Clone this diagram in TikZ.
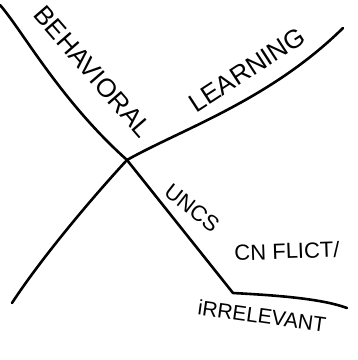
\documentclass[tikz,border=0pt]{standalone}
\usepackage{fontspec}
\setmainfont{Liberation Sans}
\begin{document}
\begin{tikzpicture}[x=1pt,y=-1pt,
  stroke/.style={line width=2.6pt,line cap=round,line join=round},
  hand/.style={font=\fontsize{26}{26}\selectfont,inner sep=0pt}]
\useasboundingbox (0,0) rectangle (358,360);
\coordinate (top) at (0,5);
\coordinate (x) at (127,160);
\coordinate (bend) at (233,293);
\coordinate (endr) at (347,308);
\coordinate (endl) at (12,303);
\coordinate (endu) at (343,28);
\draw[stroke] (top) .. controls (22,30) and (60,100) .. (x);
\draw[stroke] (x) -- (bend) .. controls (270,295) and (320,298) .. (endr);
\draw[stroke] (x) .. controls (180,130) and (270,100) .. (endu);
\draw[stroke] (x) .. controls (90,200) and (40,260) .. (endl);
\node[hand,rotate=-49] (beh) at (93,72) {BEHAVIORAL};
\node[hand,rotate=33] (lea) at (247,70) {LEARNING};
\node[hand,rotate=-38,font=\fontsize{22}{22}\selectfont] (unc) at (192,208) {UNCS};
\node[hand,rotate=2,font=\fontsize{22}{22}\selectfont] (con) at (287,251) {CN FLICT/};
\node[hand,rotate=-8,font=\fontsize{21}{21}\selectfont] (irr) at (262,316) {iRRELEVANT};
\end{tikzpicture}
\end{document}
